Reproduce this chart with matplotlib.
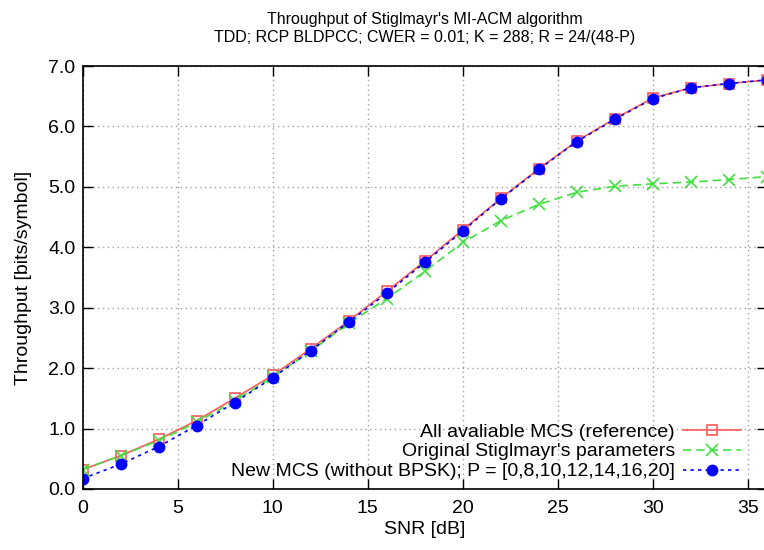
import matplotlib.pyplot as plt

# SNR points [dB]
snr = [0, 2, 4, 6, 8, 10, 12, 14, 16, 18, 20, 22, 24, 26, 28, 30, 32, 34, 36]

# all available MCS (reference)
thr_ref = [0.32, 0.55, 0.82, 1.13, 1.50, 1.88, 2.32, 2.78, 3.27, 3.77,
           4.29, 4.81, 5.30, 5.76, 6.13, 6.47, 6.64, 6.71, 6.77]
# original Stiglmayr's parameters
thr_orig = [0.32, 0.55, 0.80, 1.10, 1.46, 1.85, 2.28, 2.74, 3.15, 3.60,
            4.08, 4.44, 4.71, 4.91, 5.01, 5.05, 5.08, 5.12, 5.17]
# new MCS (without BPSK)
thr_new = [0.17, 0.41, 0.70, 1.05, 1.43, 1.84, 2.29, 2.76, 3.24, 3.75,
           4.27, 4.80, 5.29, 5.75, 6.12, 6.46, 6.64, 6.71, 6.77]

labels = ["All avaliable MCS (reference)",
          "Original Stiglmayr's parameters",
          "New MCS (without BPSK); P = [0,8,10,12,14,16,20]"]

plt.rcParams['font.family'] = ['Liberation Sans', 'DejaVu Sans']

fig = plt.figure(figsize=(7.64, 5.5), dpi=100)
ax = fig.add_axes([0.108, 0.111, 0.896, 0.769])

ax.plot(snr, thr_ref, color='#ff5a5a', lw=1.2, marker='s', ms=7,
        mfc='none', mec='#ff5a5a', mew=1.2, label=labels[0])
ax.plot(snr, thr_orig, color='#40e040', lw=1.2, ls=(0, (5, 3)), marker='x',
        ms=8, mew=1.2, label=labels[1])
ax.plot(snr, thr_new, color='#0000ff', lw=1.2, ls=(0, (2, 2.5)), marker='o',
        ms=7.5, label=labels[2])

ax.set_xlim(0, 36)
ax.set_ylim(0, 7)
ax.set_xticks(range(0, 36, 5))
ax.set_yticks(range(0, 8))
ax.set_yticklabels(["%.1f" % v for v in range(0, 8)])
ax.tick_params(direction='in', length=7, width=1, top=True, right=True,
               labelsize=14)
ax.tick_params(axis='x', pad=8)
ax.tick_params(axis='y', pad=5)
ax.grid(True, color='#a0a0a0', ls=(0, (1, 2.5)), lw=1)
for s in ax.spines.values():
    s.set_linewidth(1.2)

ax.set_xlabel("SNR [dB]", fontsize=14, labelpad=3)
ax.set_ylabel("Throughput [bits/symbol]", fontsize=14, labelpad=12)
ax.set_title("Throughput of Stiglmayr's MI-ACM algorithm\n"
             "TDD; RCP BLDPCC; CWER = 0.01; K = 288; R = 24/(48-P)",
             fontsize=11.5, linespacing=1.3, pad=17)

ax.legend(loc='lower right', bbox_to_anchor=(0.982, -0.012), frameon=False,
          markerfirst=False, handlelength=3.0, fontsize=14,
          labelspacing=0.12, handletextpad=0.4, borderaxespad=0.3)

fig.savefig('out.png', dpi=100)
